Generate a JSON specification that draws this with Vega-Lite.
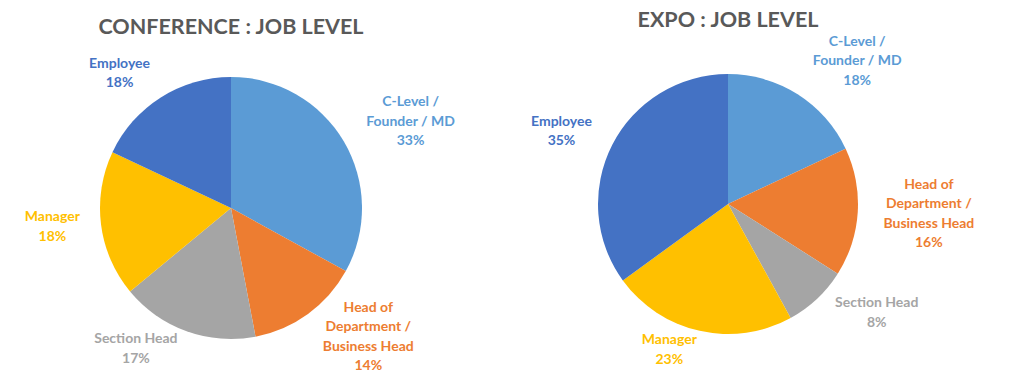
{
  "$schema": "https://vega.github.io/schema/vega-lite/v6.json",
  "background": "white",
  "padding": {"top": 10, "left": 0, "right": 0, "bottom": 0},
  "spacing": 0,
  "bounds": "flush",
  "config": {
    "view": {"stroke": null},
    "title": {"font": "Lato", "fontWeight": "bold", "fontSize": 21.5, "color": "#595959", "anchor": "middle"},
    "text": {"font": "Lato", "fontWeight": "bold", "fontSize": 14, "lineHeight": 19.5}
  },
  "datasets": {
    "conf": [
      {"job": "C-Level / Founder / MD", "label": "C-Level /\nFounder / MD", "pct": 33, "rank": 1},
      {"job": "Head of Department / Business Head", "label": "Head of\nDepartment /\nBusiness Head", "pct": 14, "rank": 2},
      {"job": "Section Head", "label": "Section Head", "pct": 17, "rank": 3},
      {"job": "Manager", "label": "Manager", "pct": 18, "rank": 4},
      {"job": "Employee", "label": "Employee", "pct": 18, "rank": 5}
    ],
    "expo": [
      {"job": "C-Level / Founder / MD", "label": "C-Level /\nFounder / MD", "pct": 18, "rank": 1},
      {"job": "Head of Department / Business Head", "label": "Head of\nDepartment /\nBusiness Head", "pct": 16, "rank": 2},
      {"job": "Section Head", "label": "Section Head", "pct": 8, "rank": 3},
      {"job": "Manager", "label": "Manager", "pct": 23, "rank": 4},
      {"job": "Employee", "label": "Employee", "pct": 35, "rank": 5}
    ]
  },
  "hconcat": [
    {
      "data": {"name": "conf"},
      "transform": [{"calculate": "datum.label + '\\n' + datum.pct + '%'", "as": "txt"}],
      "width": 462,
      "height": 324,
      "title": {"text": "CONFERENCE : JOB LEVEL", "offset": 8},
      "encoding": {
        "theta": {"field": "pct", "type": "quantitative", "stack": true},
        "order": {"field": "rank", "type": "quantitative"},
        "color": {
          "field": "job", "type": "nominal", "legend": null,
          "scale": {
            "domain": ["C-Level / Founder / MD", "Head of Department / Business Head", "Section Head", "Manager", "Employee"],
            "range": ["#5B9BD5", "#ED7D31", "#A5A5A5", "#FFC000", "#4472C4"]
          }
        }
      },
      "layer": [
        {"mark": {"type": "arc", "outerRadius": 131}},
        {
          "mark": {
            "type": "text", "radius": 140, "lineBreak": "\n", "align": "center", "baseline": "middle",
            "dx": {"expr": "sin(PI * (datum.pct_start + datum.pct_end) / 100) * 15 + (sin(PI * (datum.pct_start + datum.pct_end) / 100) >= 0 ? 1 : -1) * min(length(datum.label), 13) * 3.55"},
            "dy": {"expr": "-cos(PI * (datum.pct_start + datum.pct_end) / 100) * length(split(datum.txt, '\\n')) * 9.75 * (cos(PI * (datum.pct_start + datum.pct_end) / 100) > 0 ? 1 : 0.5) - (length(split(datum.txt, '\\n')) - 1) * 9.75"}
          },
          "encoding": {"text": {"field": "txt"}}
        }
      ]
    },
    {
      "data": {"name": "expo"},
      "transform": [{"calculate": "datum.label + '\\n' + datum.pct + '%'", "as": "txt"}],
      "width": 532,
      "height": 316,
      "title": {"text": "EXPO : JOB LEVEL", "offset": 3},
      "encoding": {
        "theta": {"field": "pct", "type": "quantitative", "stack": true},
        "order": {"field": "rank", "type": "quantitative"},
        "color": {
          "field": "job", "type": "nominal", "legend": null,
          "scale": {
            "domain": ["C-Level / Founder / MD", "Head of Department / Business Head", "Section Head", "Manager", "Employee"],
            "range": ["#5B9BD5", "#ED7D31", "#A5A5A5", "#FFC000", "#4472C4"]
          }
        }
      },
      "layer": [
        {"mark": {"type": "arc", "outerRadius": 130}},
        {
          "mark": {
            "type": "text", "radius": 140, "lineBreak": "\n", "align": "center", "baseline": "middle",
            "dx": {"expr": "sin(PI * (datum.pct_start + datum.pct_end) / 100) * 15 + (sin(PI * (datum.pct_start + datum.pct_end) / 100) >= 0 ? 1 : -1) * min(length(datum.label), 13) * 3.55"},
            "dy": {"expr": "-cos(PI * (datum.pct_start + datum.pct_end) / 100) * length(split(datum.txt, '\\n')) * 9.75 * (cos(PI * (datum.pct_start + datum.pct_end) / 100) > 0 ? 1 : 0.5) - (length(split(datum.txt, '\\n')) - 1) * 9.75"}
          },
          "encoding": {"text": {"field": "txt"}}
        }
      ]
    }
  ]
}
